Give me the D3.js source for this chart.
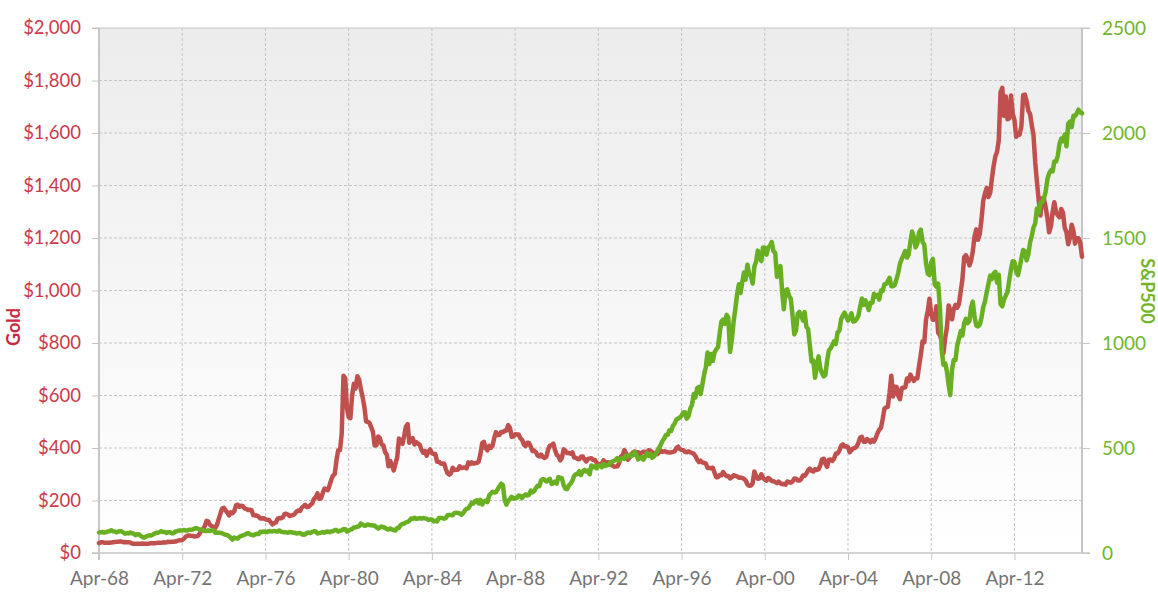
<!DOCTYPE html>
<html><head><meta charset="utf-8">
<script src="https://cdn.jsdelivr.net/npm/d3@7"></script>
<style>
html,body{margin:0;padding:0;background:#fff;}
svg{display:block;font-family:Lato,"Open Sans",sans-serif;}
</style></head><body>
<svg id="chart" width="1158" height="609"></svg>
<script>
// ---------- DATA ----------
const startMonth = "1968-04"; // first monthly observation; series run monthly to Jul 2015

// Gold, US$ per ounce (monthly)
const gold = [
/*1968*/ 37.7,40.6,41.1,39.5,39.2,39.4,39.3,39.7,41.1,
/*1969*/ 42.3,42.6,43.3,43.4,43.4,41.4,41.8,41.0,40.6,40.2,36.4,35.4,
/*1970*/ 34.9,35.0,35.1,35.6,35.9,35.4,35.3,35.4,36.2,37.5,37.4,37.4,
/*1971*/ 37.9,38.7,38.9,39.0,40.5,40.1,41.0,42.7,42.0,42.5,42.9,43.5,
/*1972*/ 45.7,48.3,48.3,49.0,54.6,62.1,65.7,67.0,65.5,64.9,62.9,63.9,
/*1973*/ 65.1,74.2,84.4,90.5,102.0,122.5,120.2,106.8,103.0,100.1,94.8,106.7,
/*1974*/ 129.2,150.2,168.4,172.2,163.3,154.1,143.0,154.6,151.8,158.8,181.7,183.9,
/*1975*/ 175.8,180.0,178.2,169.9,167.4,164.2,165.1,163.0,144.1,142.7,142.4,139.3,
/*1976*/ 131.6,131.6,132.6,128.0,126.8,125.6,117.7,109.0,114.0,116.4,130.2,133.7,
/*1977*/ 132.3,136.4,148.3,149.2,146.6,140.8,143.3,144.6,149.7,158.4,162.1,160.5,
/*1978*/ 173.2,178.2,183.7,175.1,176.3,183.7,188.7,206.1,212.4,227.1,206.0,207.8,
/*1979*/ 227.3,245.7,242.0,239.2,257.4,279.1,294.7,300.8,355.2,391.7,392.5,455.1,
/*1980*/ 675.3,665.3,553.6,517.4,513.8,600.7,644.3,626.5,673.6,661.2,623.5,594.9,
/*1981*/ 557.8,500.8,499.8,495.8,479.7,460.8,409.3,410.1,443.9,437.8,413.4,410.1,
/*1982*/ 384.1,374.2,330.2,350.5,333.9,314.7,339.4,364.2,436.6,422.3,415.6,445.9,
/*1983*/ 481.3,490.7,419.7,432.5,437.8,413.3,422.8,416.3,411.7,393.5,381.9,388.1,
/*1984*/ 370.9,386.8,394.4,381.1,377.3,377.3,347.7,347.7,341.1,340.2,341.2,320.2,
/*1985*/ 303.0,298.6,304.0,324.8,316.6,316.8,317.3,330.1,323.5,325.6,325.5,322.4,
/*1986*/ 345.5,339.1,345.7,340.4,342.6,342.8,348.6,376.6,418.6,423.2,398.7,391.3,
/*1987*/ 408.4,400.5,408.9,438.4,460.3,449.0,450.6,461.3,460.3,465.4,466.6,487.1,
/*1988*/ 477.1,442.6,443.6,452.1,451.4,451.6,437.6,431.3,413.5,406.8,420.2,419.0,
/*1989*/ 404.0,388.0,390.2,384.3,371.0,367.6,375.0,365.4,361.9,366.9,393.9,409.1,
/*1990*/ 410.1,416.8,393.1,374.3,369.0,352.3,362.5,394.7,389.3,380.8,381.1,378.2,
/*1991*/ 383.6,363.8,363.3,358.3,356.9,366.7,367.7,356.6,348.8,358.6,359.7,361.1,
/*1992*/ 354.5,353.9,344.3,338.6,337.2,340.8,353.1,342.9,345.4,344.4,335.0,334.8,
/*1993*/ 329.0,329.3,330.1,342.2,367.2,371.9,392.0,379.8,355.3,364.2,373.8,383.3,
/*1994*/ 387.0,382.0,384.0,377.3,381.4,385.6,385.5,380.4,391.6,389.8,384.4,379.5,
/*1995*/ 378.6,376.5,382.1,391.0,385.2,387.6,386.2,383.7,383.1,383.1,385.5,387.5,
/*1996*/ 399.5,404.8,396.2,392.9,391.8,385.3,383.5,387.4,383.1,381.1,377.9,369.2,
/*1997*/ 355.0,346.6,351.8,344.5,343.8,340.8,324.1,323.8,322.8,324.9,306.0,288.7,
/*1998*/ 289.0,297.5,295.9,308.4,299.1,292.3,292.9,284.1,288.9,296.1,294.1,291.6,
/*1999*/ 287.1,287.3,285.9,282.6,276.4,261.3,256.1,256.7,265.3,310.7,293.2,283.1,
/*2000*/ 284.6,300.0,286.4,279.7,275.3,285.7,281.6,274.5,273.7,270.0,266.0,272.0,
/*2001*/ 265.5,261.9,263.0,260.5,272.4,270.2,267.5,272.4,283.4,283.1,276.2,275.9,
/*2002*/ 281.7,295.5,294.0,302.7,314.5,321.2,313.3,310.3,319.2,316.6,319.2,333.4,
/*2003*/ 356.9,359.0,340.6,328.2,355.7,356.4,351.0,359.8,378.9,378.9,389.9,407.6,
/*2004*/ 414.0,405.3,406.7,403.0,383.8,392.4,398.1,400.5,405.3,420.5,439.4,442.1,
/*2005*/ 424.0,423.4,434.0,429.2,421.9,430.7,424.5,437.9,456.0,469.9,476.7,509.8,
/*2006*/ 549.9,555.0,557.1,610.6,675.4,596.2,633.8,632.6,598.2,585.8,627.8,629.8,
/*2007*/ 631.2,664.8,654.9,679.4,666.9,655.5,665.3,665.4,712.7,754.6,806.3,803.2,
/*2008*/ 889.6,922.3,968.4,909.7,888.7,889.5,939.8,839.0,829.9,806.6,760.9,816.1,
/*2009*/ 858.7,943.2,924.3,890.2,928.6,945.7,934.2,949.4,996.6,1043.2,1127.0,1134.7,
/*2010*/ 1118.0,1095.4,1113.3,1148.7,1205.4,1232.9,1193.0,1215.8,1271.0,1342.0,1369.9,1390.6,
/*2011*/ 1356.4,1372.7,1424.0,1473.8,1510.4,1528.7,1572.8,1755.8,1771.9,1665.2,1739.0,1652.3,
/*2012*/ 1656.1,1742.6,1673.8,1650.1,1585.5,1596.7,1593.9,1626.0,1744.5,1746.6,1721.6,1684.8,
/*2013*/ 1671.9,1627.6,1593.1,1487.9,1414.0,1343.4,1285.5,1351.7,1348.6,1316.6,1275.8,1221.5,
/*2014*/ 1244.3,1299.6,1336.1,1299.0,1287.5,1279.1,1310.6,1296.0,1238.8,1222.5,1176.3,1200.6,
/*2015*/ 1250.8,1227.1,1178.6,1198.9,1198.6,1181.5,1128.3
];

// S&P 500 index level (monthly)
const sp500 = [
/*1968*/ 97.5,98.7,99.6,97.7,98.9,102.7,103.4,108.4,103.9,
/*1969*/ 103.0,98.1,101.5,103.7,103.5,97.7,91.8,95.5,93.1,97.2,93.8,92.1,
/*1970*/ 85.0,89.5,89.6,81.5,76.6,72.7,78.1,81.5,84.2,83.3,87.2,92.2,
/*1971*/ 95.9,96.8,100.3,104.0,99.6,99.7,95.6,99.0,98.3,94.2,94.0,102.1,
/*1972*/ 103.9,106.6,107.2,107.7,109.5,107.1,107.4,111.1,110.6,111.6,116.7,118.1,
/*1973*/ 116.0,111.7,111.5,107.0,105.0,104.3,108.2,104.3,108.4,108.3,96.0,97.6,
/*1974*/ 96.6,96.2,94.0,90.3,87.3,86.0,79.3,72.2,63.5,73.9,70.0,68.6,
/*1975*/ 77.0,81.6,83.4,87.3,91.2,95.2,88.8,86.9,83.9,89.0,91.2,90.2,
/*1976*/ 100.9,99.7,102.8,101.6,100.2,104.3,103.4,102.9,105.2,102.9,102.1,107.5,
/*1977*/ 102.0,99.8,98.4,98.4,96.1,100.5,98.9,96.8,96.5,92.3,94.8,95.1,
/*1978*/ 89.3,87.0,89.2,96.8,97.2,95.5,100.7,103.3,102.5,93.2,94.7,96.1,
/*1979*/ 99.9,96.3,101.6,101.8,99.1,102.9,103.8,109.3,109.3,101.8,106.2,107.9,
/*1980*/ 114.2,113.7,102.1,106.3,111.2,114.2,121.7,122.4,125.5,127.5,140.5,135.8,
/*1981*/ 129.6,131.3,136.0,132.8,132.6,131.2,130.9,122.8,116.2,121.9,126.4,122.6,
/*1982*/ 120.4,113.1,112.0,116.4,111.9,109.6,107.1,119.5,120.4,133.7,138.5,140.6,
/*1983*/ 145.3,148.1,153.0,164.4,162.4,168.1,162.6,164.4,166.1,163.6,166.4,164.9,
/*1984*/ 163.4,157.1,159.2,160.1,150.6,153.2,150.7,166.7,166.1,166.1,163.6,167.2,
/*1985*/ 179.6,181.2,180.7,179.8,189.6,191.9,190.9,188.6,182.1,189.8,202.2,211.3,
/*1986*/ 211.8,226.9,238.9,235.5,247.4,250.8,236.1,252.9,231.3,244.0,249.2,242.2,
/*1987*/ 274.1,284.2,291.7,288.4,290.1,304.0,318.7,329.8,321.8,251.8,230.3,247.1,
/*1988*/ 257.1,267.8,258.9,261.3,262.2,273.5,272.0,261.5,271.9,279.0,273.7,277.7,
/*1989*/ 297.5,288.9,294.9,309.6,320.5,318.0,346.1,351.5,349.2,340.4,346.0,353.4,
/*1990*/ 329.1,331.9,339.9,330.8,361.2,358.0,356.2,322.6,306.1,304.0,322.2,330.2,
/*1991*/ 343.9,367.1,375.2,375.4,389.8,371.2,387.8,395.4,387.9,392.5,375.2,417.1,
/*1992*/ 408.8,412.7,403.7,415.0,415.4,408.1,424.2,414.0,417.8,418.7,431.4,435.7,
/*1993*/ 438.8,443.4,451.7,440.2,450.2,450.5,448.1,463.6,458.9,467.8,461.8,466.5,
/*1994*/ 481.6,467.1,445.8,450.9,456.5,444.3,458.3,475.5,462.7,472.4,453.7,459.3,
/*1995*/ 470.4,487.4,500.7,514.7,533.4,544.8,562.1,561.9,584.4,581.5,605.4,615.9,
/*1996*/ 636.0,640.4,645.5,654.2,669.1,670.6,640.0,652.0,687.3,705.3,757.0,740.7,
/*1997*/ 786.2,790.8,757.1,801.3,848.3,885.1,954.3,899.5,947.3,914.6,955.4,970.4,
/*1998*/ 980.3,1049.3,1101.8,1111.8,1090.8,1133.8,1120.7,957.3,1017.0,1098.7,1163.6,1229.2,
/*1999*/ 1279.6,1238.3,1286.4,1335.2,1301.8,1372.7,1328.7,1320.4,1282.7,1362.9,1388.9,1440.0,
/*2000*/ 1410.0,1390.0,1455.0,1452.4,1420.6,1454.6,1462.0,1481.0,1436.5,1429.4,1315.0,1320.3,
/*2001*/ 1366.0,1239.9,1160.3,1249.5,1255.8,1224.4,1211.2,1133.6,1040.9,1059.8,1139.5,1148.1,
/*2002*/ 1130.2,1106.7,1147.4,1076.9,1067.1,989.8,911.6,916.1,835.0,885.8,936.3,879.8,
/*2003*/ 855.7,841.2,848.2,916.9,963.6,974.5,990.3,1008.0,996.0,1050.7,1058.2,1111.9,
/*2004*/ 1131.1,1144.9,1126.2,1107.3,1120.7,1140.8,1101.7,1104.2,1114.6,1130.2,1173.8,1211.9,
/*2005*/ 1181.3,1203.6,1180.6,1156.9,1191.5,1191.3,1234.2,1220.3,1228.8,1207.0,1249.5,1248.3,
/*2006*/ 1280.1,1280.7,1294.8,1310.6,1270.1,1270.2,1276.7,1303.8,1335.9,1377.9,1400.6,1418.3,
/*2007*/ 1438.2,1406.8,1420.9,1482.4,1530.6,1503.4,1455.3,1474.0,1526.8,1540.0,1481.1,1468.4,
/*2008*/ 1378.6,1330.6,1322.7,1385.6,1400.4,1280.0,1267.4,1282.8,1166.4,968.8,896.2,903.3,
/*2009*/ 865.0,800.0,752.0,872.8,919.1,919.3,987.5,1020.6,1057.1,1036.2,1095.6,1115.1,
/*2010*/ 1095.0,1104.5,1169.4,1197.0,1125.0,1083.0,1079.0,1087.0,1122.0,1171.0,1198.0,1241.0,
/*2011*/ 1282.0,1321.0,1304.0,1331.0,1339.0,1288.0,1325.0,1185.0,1175.0,1207.0,1226.0,1243.0,
/*2012*/ 1300.0,1352.0,1389.0,1386.0,1341.0,1323.0,1359.0,1403.0,1443.0,1437.0,1394.0,1422.0,
/*2013*/ 1480.0,1512.0,1550.0,1570.0,1640.0,1618.0,1668.0,1670.0,1688.0,1721.0,1780.0,1808.0,
/*2014*/ 1822.0,1817.0,1864.0,1864.0,1890.0,1948.0,1973.0,1961.0,1993.0,1937.0,2044.0,2054.0,
/*2015*/ 2028.0,2082.0,2080.0,2094.0,2111.0,2099.0,2094.0
];

const goldTicks = [0,200,400,600,800,1000,1200,1400,1600,1800,2000];
const spTicks = [0,500,1000,1500,2000,2500];
const xTickYears = [1968,1972,1976,1980,1984,1988,1992,1996,2000,2004,2008,2012];
const xTickLabels = ["Apr-68","Apr-72","Apr-76","Apr-80","Apr-84","Apr-88","Apr-92","Apr-96","Apr-00","Apr-04","Apr-08","Apr-12"];
const goldLabel = "Gold";
const spLabel = "S&P500";

// ---------- LAYOUT ----------
const L = 99, R = 1082, T = 28, B = 553;
const goldColor = "#c0504d", spColor = "#68b022";
const goldText = "#cc3a4c", spText = "#72b52a";
const FONT = "Lato, 'Open Sans', sans-serif";

const svg = d3.select("#chart");
const start = d3.utcParse("%Y-%m")(startMonth);
const dates = gold.map((_, i) => d3.utcMonth.offset(start, i));
const x = d3.scaleUtc().domain([start, dates[dates.length - 1]]).range([L, R]);
const yL = d3.scaleLinear().domain([0, 2000]).range([B, T]);
const yR = d3.scaleLinear().domain([0, 2500]).range([B, T]);
const xTickDates = xTickYears.map(y => new Date(Date.UTC(y, 3, 1)));

// background gradient
const defs = svg.append("defs");
const grad = defs.append("linearGradient").attr("id", "bg").attr("x1", 0).attr("y1", 0).attr("x2", 0).attr("y2", 1);
grad.append("stop").attr("offset", "0%").attr("stop-color", "#ececec");
grad.append("stop").attr("offset", "100%").attr("stop-color", "#ffffff");
svg.append("rect").attr("x", L).attr("y", T).attr("width", R - L).attr("height", B - T).attr("fill", "url(#bg)");

// horizontal grid (dashed)
svg.append("g").selectAll("line").data(goldTicks.filter(d => d > 0 && d < 2000)).join("line")
  .attr("x1", L).attr("x2", R).attr("y1", d => yL(d)).attr("y2", d => yL(d))
  .attr("stroke", "#c4c4c4").attr("stroke-width", 1).attr("stroke-dasharray", "3,2");
// vertical grid
svg.append("g").selectAll("line").data(xTickDates.slice(1)).join("line")
  .attr("x1", d => x(d)).attr("x2", d => x(d)).attr("y1", T).attr("y2", B)
  .attr("stroke", "#c4c4c4").attr("stroke-width", 1).attr("stroke-dasharray", "3,2");

// frame lines
const frame = "#c6c6c6";
svg.append("line").attr("x1", L - 7).attr("x2", R + 8).attr("y1", T).attr("y2", T).attr("stroke", frame).attr("stroke-width", 1.2);
svg.append("line").attr("x1", L - 7).attr("x2", R + 8).attr("y1", B).attr("y2", B).attr("stroke", frame).attr("stroke-width", 1.5);
svg.append("line").attr("x1", L).attr("x2", L).attr("y1", T).attr("y2", B + 7).attr("stroke", frame).attr("stroke-width", 2);
svg.append("line").attr("x1", R).attr("x2", R).attr("y1", T).attr("y2", B).attr("stroke", frame).attr("stroke-width", 2);

// left axis (Gold)
const axL = svg.append("g").attr("transform", `translate(${L},0)`)
  .call(d3.axisLeft(yL).tickValues(goldTicks).tickSize(7).tickPadding(11).tickFormat(d => "$" + d3.format(",")(d)));
axL.select(".domain").remove();
axL.selectAll(".tick line").attr("stroke", frame);
axL.selectAll("text").attr("fill", goldText).attr("font-size", 18.5).attr("font-family", FONT);

// right axis (S&P)
const axR = svg.append("g").attr("transform", `translate(${R},0)`)
  .call(d3.axisRight(yR).tickValues(spTicks).tickSize(8).tickPadding(12).tickFormat(d3.format("d")));
axR.select(".domain").remove();
axR.selectAll(".tick line").attr("stroke", frame);
axR.selectAll("text").attr("fill", spText).attr("font-size", 19).attr("font-family", FONT);

// bottom axis
const axB = svg.append("g").attr("transform", `translate(0,${B})`)
  .call(d3.axisBottom(x).tickValues(xTickDates).tickSize(7).tickPadding(12).tickFormat((d, i) => xTickLabels[i]));
axB.select(".domain").remove();
axB.selectAll(".tick line").attr("stroke", frame);
axB.selectAll("text").attr("fill", "#747474").attr("font-size", 19).attr("font-family", FONT);

// lines
const goldLine = d3.line().x((d, i) => x(dates[i])).y(d => yL(d)).curve(d3.curveLinear);
const spLine = d3.line().x((d, i) => x(dates[i])).y(d => yR(d)).curve(d3.curveLinear);
svg.append("path").datum(gold).attr("d", goldLine).attr("fill", "none")
  .attr("stroke", goldColor).attr("stroke-width", 4.5).attr("stroke-linejoin", "round").attr("stroke-linecap", "round");
svg.append("path").datum(sp500).attr("d", spLine).attr("fill", "none")
  .attr("stroke", spColor).attr("stroke-width", 4.5).attr("stroke-linejoin", "round").attr("stroke-linecap", "round");

// axis titles
svg.append("text").text(goldLabel)
  .attr("transform", "translate(20,327) rotate(-90)").attr("text-anchor", "middle")
  .attr("fill", "#c9283d").attr("font-weight", "bold").attr("font-size", 18).attr("font-family", FONT);
svg.append("text").text(spLabel)
  .attr("transform", "translate(1141,291) rotate(90)").attr("text-anchor", "middle")
  .attr("fill", spText).attr("font-weight", "bold").attr("font-size", 18).attr("font-family", FONT);
</script>
</body></html>
